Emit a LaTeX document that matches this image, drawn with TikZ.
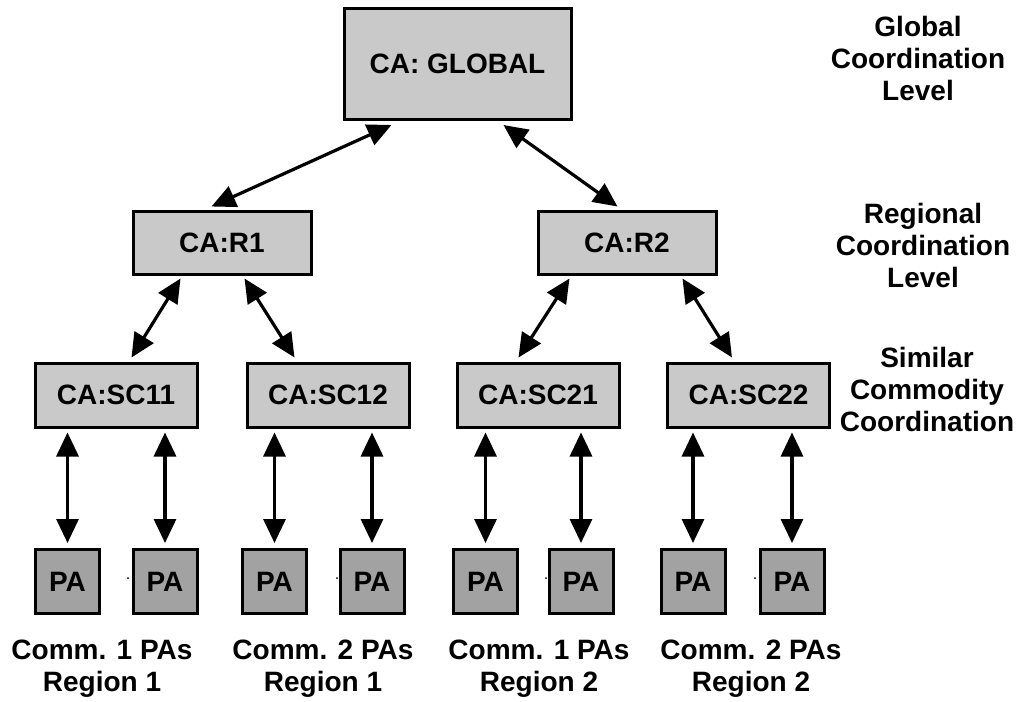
\documentclass[tikz,border=0pt]{standalone}
\usepackage{fontspec}
\setmainfont{Liberation Sans}
\usetikzlibrary{arrows.meta,calc}
\definecolor{cafill}{HTML}{C9C9C9}
\definecolor{pafill}{HTML}{A2A2A2}
\begin{document}
\begin{tikzpicture}[x=1pt,y=-1pt,
  every node/.style={font=\fontsize{28}{32}\selectfont\bfseries},
  cabox/.style={draw=black,line width=3pt,fill=cafill,inner sep=0pt},
  pabox/.style={draw=black,line width=3pt,fill=pafill,inner sep=0pt,minimum width=64pt,minimum height=64pt},
  scbox/.style={cabox,minimum width=162pt,minimum height=64pt},
  rbox/.style={cabox,minimum width=178pt,minimum height=63pt},
  lbl/.style={align=center,inner sep=0pt},
  arr/.style={line width=3.2pt,{Triangle[length=24pt,width=22pt]}-{Triangle[length=24pt,width=22pt]}},
  dotmark/.style={circle,fill=black,inner sep=0pt,minimum size=2pt}
]
\useasboundingbox (0,0) rectangle (1021,702);

% coordination agents
\node[cabox,minimum width=227pt,minimum height=111pt] (global) at (457.5,64) {CA: GLOBAL};
\node[rbox] (r1) at (222,242.5) {CA:R1};
\node[rbox] (r2) at (627,242.5) {CA:R2};
\node[scbox] (sc11) at (116,395) {CA:SC11};
\node[scbox] (sc12) at (328,395) {CA:SC12};
\node[scbox] (sc21) at (538,395) {CA:SC21};
\node[scbox] (sc22) at (748.5,395) {CA:SC22};

% production agents
\node[pabox] (pa1) at (67.5,581.5) {PA};
\node[pabox] (pa2) at (165,581.5) {PA};
\node[pabox] (pa3) at (274.5,581.5) {PA};
\node[pabox] (pa4) at (372,581.5) {PA};
\node[pabox] (pa5) at (485.5,581.5) {PA};
\node[pabox] (pa6) at (581,581.5) {PA};
\node[pabox] (pa7) at (693,581.5) {PA};
\node[pabox] (pa8) at (792,581.5) {PA};

\node[dotmark] (d1) at (128,578) {};
\node[dotmark] (d2) at (337,578) {};
\node[dotmark] (d3) at (546,578) {};
\node[dotmark] (d4) at (755,578) {};

% level labels
\node[lbl] (lvl1) at (918,58) {Global\\Coordination\\Level};
\node[lbl] (lvl2) at (923,245) {Regional\\Coordination\\Level};
\node[lbl] (lvl3) at (927,389) {Similar\\Commodity\\Coordination};

% group labels
\node[lbl] (g1) at (102,669) {Comm. 1 PAs\\Region 1};
\node[lbl] (g2) at (323,669) {Comm. 2 PAs\\Region 1};
\node[lbl] (g3) at (539,669) {Comm. 1 PAs\\Region 2};
\node[lbl] (g4) at (751,669) {Comm. 2 PAs\\Region 2};

% connectors: global <-> regional
\draw[arr] ($(global.south west)+(49,4)$) -- ($(r1.north west)+(80,-3)$);
\draw[arr] ($(global.south east)+(-69,4)$) -- ($(r2.north west)+(81,-3)$);
% regional <-> similar commodity
\draw[arr] ($(r1.south west)+(49,3)$) -- ($(sc11.north west)+(98,-4)$);
\draw[arr] ($(r1.south east)+(-68,3)$) -- ($(sc12.north west)+(49,-4)$);
\draw[arr] ($(r2.south west)+(33,3)$) -- ($(sc21.north west)+(63,-4)$);
\draw[arr] ($(r2.south east)+(-35,3)$) -- ($(sc22.north west)+(66,-4)$);
% similar commodity <-> PA
\foreach \p/\s in {pa1/sc11,pa2/sc11,pa3/sc12,pa4/sc12,pa5/sc21,pa6/sc21,pa7/sc22,pa8/sc22}{
  \draw[arr,shorten <=4pt,shorten >=5pt] (\p.north |- \s.south) -- (\p.north);
}
\end{tikzpicture}
\end{document}
